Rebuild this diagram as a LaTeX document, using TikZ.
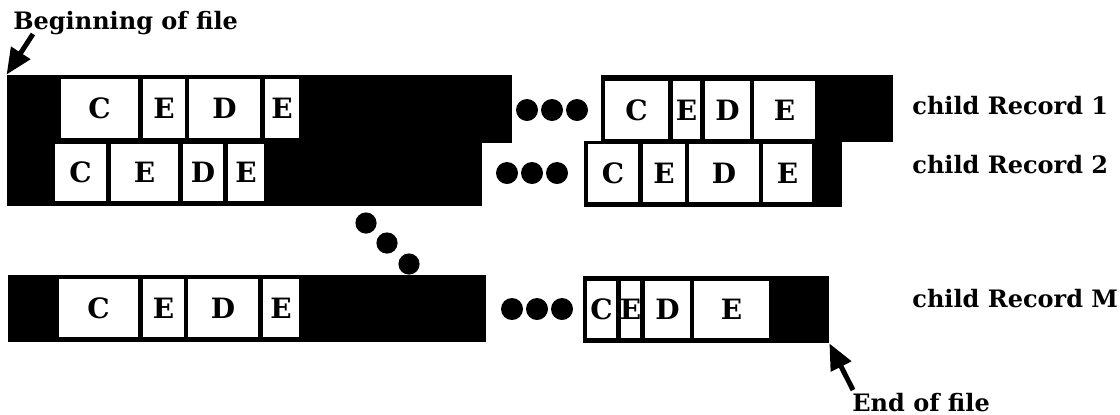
\documentclass[tikz,border=0pt]{standalone}
\usepackage{fontspec}
\setmainfont{DejaVu Serif}
\usetikzlibrary{arrows.meta,fit}

\begin{document}
\begin{tikzpicture}[
  x=0.5pt, y=-0.5pt,
  every node/.style={font=\bfseries},
  bar/.style={rectangle,fill=black,inner sep=0pt},
  cell/.style={rectangle,fill=white,inner sep=0pt},
  lbl/.style={inner sep=0pt,anchor=base west,font=\fontsize{12}{14}\selectfont\bfseries},
  pointer/.style={-{Triangle[length=13pt,width=11pt]},line width=2.5pt}
]
\tikzset{letter/.style={label={[font=\fontsize{14}{16}\selectfont\bfseries,inner sep=0pt]center:#1}}}
\useasboundingbox (0,0) rectangle (1120,414);

% record bars
\node[bar,fit={(7,75)(512,143)}] (bar1l) {};
\node[bar,fit={(7,143)(482,206)}] (bar2l) {};
\node[bar,fit={(8,275)(486,342)}] (barml) {};
\node[bar,fit={(601,75)(893,142)}] (bar1r) {};
\node[bar,fit={(584,141)(842,207)}] (bar2r) {};
\node[bar,fit={(583,276)(829,343)}] (barmr) {};

% fields
\foreach \a/\b/\t [count=\i] in {61/138/C,143/185/E,189/260/D,265/299/E}
  \node[cell,fit={(\a,79)(\b,138)},letter=\t] (f1l-\i) {};
\foreach \a/\b/\t [count=\i] in {55/106/C,111/178/E,183/223/D,228/264/E}
  \node[cell,fit={(\a,144)(\b,201)},letter=\t] (f2l-\i) {};
\foreach \a/\b/\t [count=\i] in {59/138/C,143/184/E,188/258/D,263/299/E}
  \node[cell,fit={(\a,279)(\b,337)},letter=\t] (fml-\i) {};
\foreach \a/\b/\t [count=\i] in {605/668/C,673/700/E,705/750/D,754/815/E}
  \node[cell,fit={(\a,81)(\b,139)},letter=\t] (f1r-\i) {};
\foreach \a/\b/\t [count=\i] in {588/638/C,643/685/E,689/759/D,763/812/E}
  \node[cell,fit={(\a,144)(\b,202)},letter=\t] (f2r-\i) {};
\foreach \a/\b/\t [count=\i] in {587/616/C,621/640/E,645/690/D,694/769/E}
  \node[cell,fit={(\a,281)(\b,338)},letter=\t] (fmr-\i) {};

% ellipsis dots
\foreach \x in {527,552,577} \fill (\x,110) circle[radius=5.5pt];
\foreach \x in {507,532,557} \fill (\x,173) circle[radius=5.5pt];
\foreach \x in {512,537,562} \fill (\x,309) circle[radius=5.5pt];
\foreach \x/\y in {366/223,387/243,409/264} \fill (\x,\y) circle[radius=5.3pt];

% labels
\node[lbl] (beglbl) at (13,29) {Beginning of file};
\node[lbl] (rec1) at (912,114) {child Record 1};
\node[lbl] (rec2) at (912,173) {child Record 2};
\node[lbl] (recm) at (912,307) {child Record M};
\node[lbl] (eoflbl) at (852,411) {End of file};

\coordinate (begtail) at (33,34);
\coordinate (eoftail) at (853,390);
\draw[pointer] (begtail) -- (bar1l.north west);
\draw[pointer] (eoftail) -- (barmr.south east);
\end{tikzpicture}
\end{document}
